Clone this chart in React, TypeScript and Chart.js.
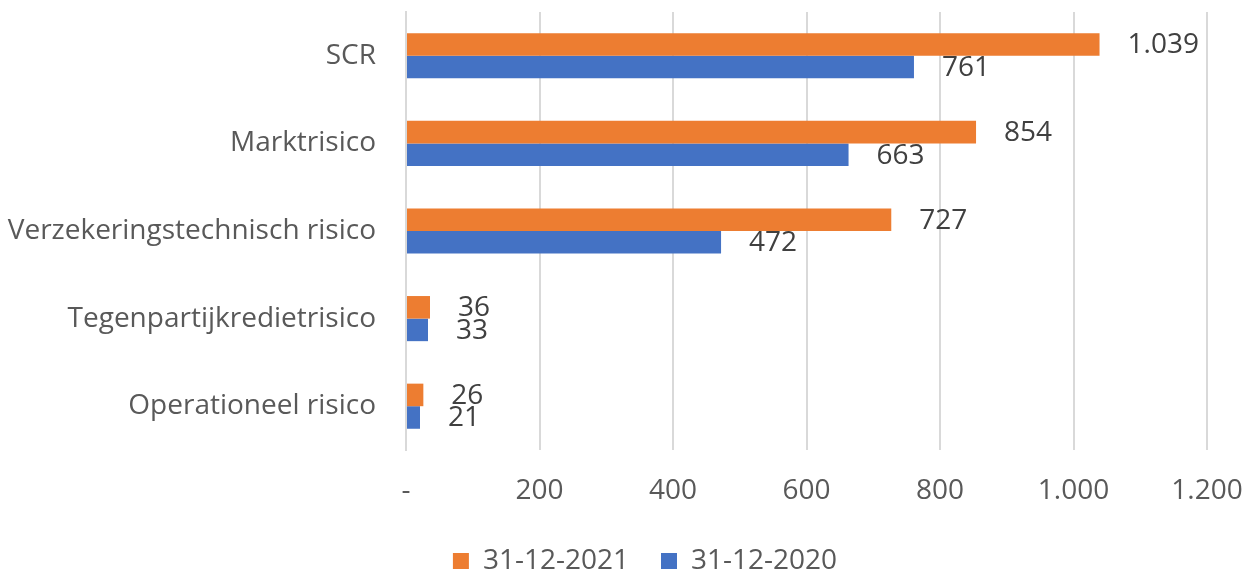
import React, { useEffect, useRef } from "react";
import { Chart, registerables } from "chart.js";

Chart.register(...registerables);

const categories = [
  "SCR",
  "Marktrisico",
  "Verzekeringstechnisch risico",
  "Tegenpartijkredietrisico",
  "Operationeel risico",
];
const seriesNames = ["31-12-2021", "31-12-2020"];
const values2021 = [1039, 854, 727, 36, 26];
const values2020 = [761, 663, 472, 33, 21];
const xTicks = [0, 200, 400, 600, 800, 1000, 1200];

const FONT = "'Open Sans', 'Noto Sans', sans-serif";

const fmt = (v: number) =>
  v === 0 ? "-" : String(v).replace(/\B(?=(\d{3})+(?!\d))/g, ".");

const labelPlugin = {
  id: "barLabels",
  afterDatasetsDraw(chart: any) {
    const ctx = chart.ctx;
    ctx.save();
    ctx.font = `28px ${FONT}`;
    ctx.fillStyle = "#404040";
    ctx.textAlign = "left";
    ctx.textBaseline = "middle";
    chart.data.datasets.forEach((ds: any, di: number) => {
      const meta = chart.getDatasetMeta(di);
      meta.data.forEach((bar: any, i: number) => {
        ctx.fillText(fmt(ds.data[i]), bar.x + 28, bar.y + 1);
      });
    });
    ctx.restore();
  },
};

export default function App() {
  const ref = useRef<HTMLCanvasElement>(null);
  useEffect(() => {
    if (!ref.current) return;
    const chart = new Chart(ref.current, {
      type: "bar",
      data: {
        labels: categories,
        datasets: [
          {
            label: seriesNames[0],
            data: values2021,
            backgroundColor: "#ED7D31",
            categoryPercentage: 0.515,
            barPercentage: 1,
          },
          {
            label: seriesNames[1],
            data: values2020,
            backgroundColor: "#4472C4",
            categoryPercentage: 0.515,
            barPercentage: 1,
          },
        ],
      },
      options: {
        indexAxis: "y",
        animation: false,
        responsive: true,
        maintainAspectRatio: false,
        layout: { padding: { top: 12, right: 0, left: 0, bottom: 0 } },
        scales: {
          x: {
            min: 0,
            max: 1200,
            afterBuildTicks: (scale: any) => {
              scale.ticks = xTicks.map((v) => ({ value: v }));
            },
            afterFit: (scale: any) => {
              scale.height = 65;
              scale.paddingLeft = 0;
              scale.paddingRight = 0;
            },
            grid: { color: "#d9d9d9", lineWidth: 2, drawTicks: false },
            border: { display: false },
            ticks: {
              padding: 24,
              color: "#595959",
              font: { size: 28, family: FONT },
              callback: (v: any) => fmt(Number(v)),
              maxRotation: 0,
              autoSkip: false,
            },
          },
          y: {
            afterFit: (scale: any) => {
              scale.width = 406;
              scale.paddingTop = 0;
              scale.paddingBottom = 0;
            },
            grid: { display: false, drawTicks: false },
            border: { display: true, color: "#d9d9d9", width: 2 },
            ticks: {
              padding: 30,
              color: "#595959",
              font: { size: 28, family: FONT },
            },
          },
          yRight: {
            type: "category",
            position: "right",
            afterFit: (scale: any) => {
              scale.width = 83;
              scale.paddingTop = 0;
              scale.paddingBottom = 0;
            },
            grid: { display: false, drawTicks: false },
            border: { display: false },
            ticks: { display: false },
          },
        },
        plugins: {
          legend: {
            position: "bottom",
            labels: {
              boxWidth: 16,
              boxHeight: 16,
              color: "#595959",
              font: { size: 28, family: FONT },
              padding: 32,
            },
          },
          tooltip: { enabled: false },
        },
      },
      plugins: [labelPlugin],
    });
    return () => chart.destroy();
  }, []);
  return (
    <div style={{ position: "fixed", left: 0, top: 0, width: 1290, height: 585 }}>
      <canvas ref={ref} />
    </div>
  );
}
